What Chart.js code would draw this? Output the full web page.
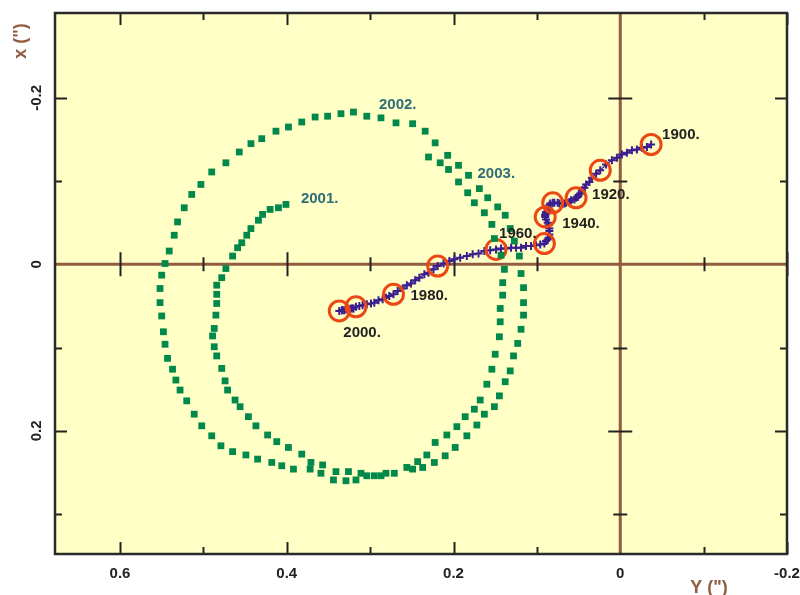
<!DOCTYPE html>
<html><head><meta charset="utf-8">
<script src="https://cdn.jsdelivr.net/npm/chart.js@4.4.1/dist/chart.umd.min.js"></script>
<style>html,body{margin:0;padding:0;background:#fff;}</style>
</head><body>
<canvas id="c" width="800" height="595"></canvas>
<script>
// ---- data (Y in arcsec, x in arcsec) ----
// mean pole path 1900 ... 2000, one point per year
const pathYears = [1900,1901,1902,1903,1904,1905,1906,1907,1908,1909,1910,1911,1912,1913,1914,1915,1916,1917,1918,1919,1920,1921,1922,1923,1924,1925,1926,1927,1928,1929,1930,1931,1932,1933,1934,1935,1936,1937,1938,1939,1940,1941,1942,1943,1944,1945,1946,1947,1948,1949,1950,1951,1952,1953,1954,1955,1956,1957,1958,1959,1960,1961,1962,1963,1964,1965,1966,1967,1968,1969,1970,1971,1972,1973,1974,1975,1976,1977,1978,1979,1980,1981,1982,1983,1984,1985,1986,1987,1988,1989,1990,1991,1992,1993,1994,1995,1996,1997,1998,1999,2000];
const pathY = [-0.037,-0.032,-0.026,-0.020,-0.014,-0.008,-0.002,0.004,0.010,0.017,
  0.024,0.029,0.034,0.037,0.041,0.043,0.046,0.048,0.050,0.051,
  0.053,0.055,0.059,0.061,0.065,0.067,0.069,0.073,0.075,0.079,
  0.081,0.084,0.085,0.086,0.087,0.087,0.089,0.089,0.090,0.090,
  0.090,0.089,0.087,0.086,0.085,0.085,0.085,0.086,0.087,0.089,
  0.091,0.096,0.101,0.107,0.113,0.119,0.125,0.131,0.137,0.143,
  0.149,0.156,0.163,0.170,0.177,0.184,0.192,0.199,0.205,0.212,
  0.219,0.224,0.230,0.235,0.241,0.246,0.251,0.256,0.261,0.267,
  0.272,0.277,0.281,0.285,0.290,0.295,0.299,0.304,0.309,0.313,
  0.317,0.320,0.321,0.323,0.325,0.327,0.329,0.331,0.333,0.334,
  0.337];
const pathX = [-0.144,-0.141,-0.140,-0.138,-0.137,-0.134,-0.132,-0.128,-0.125,-0.120,
  -0.113,-0.109,-0.104,-0.099,-0.096,-0.092,-0.089,-0.085,-0.083,-0.081,
  -0.080,-0.078,-0.077,-0.075,-0.074,-0.073,-0.073,-0.073,-0.074,-0.074,
  -0.074,-0.073,-0.071,-0.068,-0.067,-0.065,-0.063,-0.061,-0.060,-0.059,
  -0.057,-0.054,-0.050,-0.047,-0.043,-0.040,-0.036,-0.032,-0.030,-0.028,
  -0.025,-0.024,-0.023,-0.022,-0.022,-0.020,-0.020,-0.020,-0.019,-0.019,
  -0.018,-0.017,-0.016,-0.013,-0.012,-0.010,-0.008,-0.006,-0.004,-0.001,
  0.002,0.006,0.010,0.012,0.016,0.019,0.023,0.025,0.029,0.032,
  0.036,0.038,0.040,0.042,0.043,0.046,0.047,0.048,0.049,0.050,
  0.051,0.053,0.053,0.053,0.054,0.054,0.054,0.055,0.055,0.055,
  0.056];
const circleYears = [1900,1910,1920,1930,1940,1950,1960,1970,1980,1990,2000];
const pathLabelYears = [1900,1920,1940,1960,1980,2000];
const pathLabels = ["1900.","1920.","1940.","1960.","1980.","2000."];

// pole positions 2001 - 2003
const spiralY = [0.401,0.410,0.420,0.429,0.434,0.443,0.448,0.454,0.459,0.465,
  0.473,0.478,0.484,0.484,0.484,0.485,0.487,0.489,0.487,0.484,
  0.478,0.474,0.471,0.462,0.456,0.446,0.437,0.423,0.412,0.398,
  0.382,0.371,0.357,0.341,0.326,0.311,0.295,0.281,0.256,0.243,
  0.232,0.222,0.208,0.196,0.186,0.175,0.168,0.160,0.154,0.150,
  0.145,0.144,0.144,0.141,0.141,0.139,0.143,0.151,0.154,0.163,
  0.175,0.183,0.194,0.206,0.216,0.230,0.222,0.234,0.249,0.269,
  0.287,0.304,0.320,0.335,0.351,0.366,0.382,0.398,0.413,0.430,
  0.443,0.457,0.473,0.490,0.503,0.514,0.523,0.531,0.535,0.541,
  0.546,0.550,0.552,0.552,0.550,0.548,0.546,0.543,0.537,0.533,
  0.528,0.520,0.511,0.502,0.490,0.479,0.465,0.449,0.435,0.418,
  0.406,0.392,0.372,0.359,0.344,0.329,0.317,0.304,0.287,0.271,
  0.249,0.237,0.223,0.210,0.198,0.184,0.172,0.163,0.151,0.145,
  0.138,0.132,0.128,0.123,0.119,0.116,0.116,0.116,0.119,0.121,
  0.127,0.132,0.138,0.147,0.159,0.169,0.182,0.194,0.207];
const spiralX = [-0.072,-0.068,-0.066,-0.060,-0.053,-0.043,-0.035,-0.026,-0.020,-0.010,
  0.005,0.016,0.025,0.036,0.047,0.061,0.077,0.086,0.099,0.110,
  0.125,0.140,0.151,0.163,0.171,0.183,0.194,0.205,0.213,0.220,
  0.228,0.238,0.241,0.249,0.249,0.251,0.254,0.251,0.244,0.237,
  0.229,0.214,0.205,0.195,0.183,0.174,0.163,0.144,0.126,0.108,
  0.087,0.069,0.053,0.037,0.022,0.006,-0.011,-0.031,-0.048,-0.062,
  -0.074,-0.086,-0.099,-0.114,-0.122,-0.129,-0.146,-0.160,-0.169,-0.170,
  -0.176,-0.178,-0.183,-0.181,-0.178,-0.177,-0.171,-0.165,-0.160,-0.151,
  -0.145,-0.135,-0.122,-0.111,-0.096,-0.084,-0.068,-0.051,-0.035,-0.016,
  -0.001,0.013,0.029,0.046,0.062,0.081,0.096,0.113,0.126,0.139,
  0.151,0.164,0.180,0.194,0.206,0.218,0.225,0.229,0.234,0.238,
  0.242,0.246,0.246,0.251,0.259,0.260,0.259,0.254,0.254,0.251,
  0.246,0.244,0.238,0.230,0.220,0.206,0.193,0.180,0.171,0.158,
  0.141,0.128,0.110,0.095,0.078,0.061,0.046,0.028,0.011,-0.010,
  -0.028,-0.043,-0.059,-0.069,-0.080,-0.091,-0.107,-0.119,-0.131];
const spiralLabelIdx = [0,69,146];
const spiralLabels = ["2001.","2002.","2003."];

// axis ticks
const xTickValues = [-0.2,-0.1,0,0.1,0.2,0.3,0.4,0.5,0.6];
const yTickValues = [-0.2,-0.1,0,0.1,0.2,0.3];
const xTitle = 'Y (")';
const yTitle = 'x (")';

// ---- styling ----
const BROWN = '#915C40';
const PURPLE = '#3B1F8F';
const ORANGE = '#EC4814';
const GREEN = '#00894A';
const TEAL = '#2F6E78';
const INK = '#222222';
const SANS = '"Liberation Sans", Arial, sans-serif';

const isMajor = v => Math.round(v * 10) % 2 === 0;
const fmt = v => String(Math.round(v * 10) / 10);

const pathData = pathY.map((v, i) => ({x: v, y: pathX[i]}));
const circleData = circleYears.map(yr => { const i = pathYears.indexOf(yr); return {x: pathY[i], y: pathX[i]}; });
const spiralData = spiralY.map((v, i) => ({x: v, y: spiralX[i]}));

const deco = {
  id: 'deco',
  beforeDraw(chart) {
    const {ctx, chartArea: a} = chart;
    ctx.save();
    ctx.fillStyle = '#ffffff';
    ctx.fillRect(0, 0, chart.width, chart.height);
    ctx.fillStyle = '#FFFFC6';
    ctx.fillRect(a.left, a.top, a.right - a.left, a.bottom - a.top);
    ctx.restore();
  },
  beforeDatasetsDraw(chart) {
    const {ctx, chartArea: a, scales: {x, y}} = chart;
    const x0 = x.getPixelForValue(0), y0 = y.getPixelForValue(0);
    ctx.save();
    ctx.strokeStyle = BROWN; ctx.lineWidth = 3;
    ctx.beginPath();
    ctx.moveTo(a.left, y0); ctx.lineTo(a.right, y0);
    ctx.moveTo(x0, a.top); ctx.lineTo(x0, a.bottom);
    ctx.stroke();
    ctx.strokeStyle = INK; ctx.lineWidth = 2;
    ctx.beginPath();
    xTickValues.forEach(v => {
      if (Math.abs(v) < 1e-9) return;
      const p = Math.round(x.getPixelForValue(v)) + 0.5, L = isMajor(v) ? 12 : 7;
      ctx.moveTo(p, y0 - L); ctx.lineTo(p, y0 + L);
    });
    yTickValues.forEach(v => {
      if (Math.abs(v) < 1e-9) return;
      const p = Math.round(y.getPixelForValue(v)) + 0.5, L = isMajor(v) ? 12 : 7;
      ctx.moveTo(x0 - L, p); ctx.lineTo(x0 + L, p);
    });
    ctx.stroke();
    ctx.restore();
  },
  afterDatasetsDraw(chart) {
    const {ctx, chartArea: a, scales: {x, y}} = chart;
    ctx.save();
    // frame ticks
    ctx.strokeStyle = INK; ctx.lineWidth = 2;
    ctx.beginPath();
    xTickValues.forEach(v => {
      if (Math.abs(v) < 1e-9) return;
      const p = Math.round(x.getPixelForValue(v)) + 0.5, L = isMajor(v) ? 12 : 7;
      ctx.moveTo(p, a.bottom); ctx.lineTo(p, a.bottom - L);
      ctx.moveTo(p, a.top); ctx.lineTo(p, a.top + L);
    });
    yTickValues.forEach(v => {
      if (Math.abs(v) < 1e-9) return;
      const p = Math.round(y.getPixelForValue(v)) + 0.5, L = isMajor(v) ? 12 : 7;
      ctx.moveTo(a.left, p); ctx.lineTo(a.left + L, p);
      ctx.moveTo(a.right, p); ctx.lineTo(a.right - L, p);
    });
    ctx.stroke();
    // frame
    ctx.strokeStyle = '#2a2a2a'; ctx.lineWidth = 2.5;
    ctx.strokeRect(a.left, a.top, a.right - a.left, a.bottom - a.top);

    // y tick labels (rotated)
    ctx.fillStyle = INK;
    ctx.font = 'bold 15px ' + SANS;
    ctx.textAlign = 'center'; ctx.textBaseline = 'middle';
    yTickValues.forEach(v => {
      if (!isMajor(v)) return;
      ctx.save();
      ctx.translate(37, y.getPixelForValue(v));
      ctx.rotate(-Math.PI / 2);
      ctx.fillText(fmt(v), 0, 0);
      ctx.restore();
    });

    // year labels on the mean-pole path
    const offs = {1900: [11, -11], 1920: [16, -3.5], 1940: [17, 5.5], 1960: [3, -17], 1980: [17, 1], 2000: [4, 21]};
    ctx.font = 'bold 15px ' + SANS;
    ctx.textAlign = 'left'; ctx.textBaseline = 'middle';
    ctx.fillStyle = INK;
    pathLabelYears.forEach((yr, k) => {
      const i = pathYears.indexOf(yr);
      const px = x.getPixelForValue(pathY[i]), py = y.getPixelForValue(pathX[i]);
      ctx.fillText(pathLabels[k], px + offs[yr][0], py + offs[yr][1] + 1);
    });
    const soffs = [[15, -6.5], [-17, -19], [9, -2]];
    ctx.fillStyle = TEAL;
    spiralLabelIdx.forEach((i, k) => {
      const px = x.getPixelForValue(spiralY[i]), py = y.getPixelForValue(spiralX[i]);
      ctx.fillText(spiralLabels[k], px + soffs[k][0], py + soffs[k][1] + 1);
    });

    // axis titles
    ctx.fillStyle = BROWN;
    ctx.font = 'bold 18px ' + SANS;
    ctx.textAlign = 'center';
    ctx.fillText(xTitle, 709, 588);
    ctx.save();
    ctx.translate(21, 41);
    ctx.rotate(-Math.PI / 2);
    ctx.fillText(yTitle, 0, 0);
    ctx.restore();
    ctx.restore();
  }
};

new Chart(document.getElementById('c'), {
  type: 'scatter',
  data: {
    datasets: [
      {label: 'mean pole 1900-2000', data: pathData, showLine: true, borderColor: PURPLE, borderWidth: 1.2,
       pointStyle: 'cross', pointRadius: 4, pointBorderWidth: 2, pointBorderColor: PURPLE, pointBackgroundColor: PURPLE, order: 3},
      {label: 'decades', data: circleData, showLine: false, pointStyle: 'circle', pointRadius: 10,
       pointBorderWidth: 3, pointBorderColor: ORANGE, pointBackgroundColor: 'rgba(0,0,0,0)', order: 2},
      {label: '2001-2003', data: spiralData, showLine: false, pointStyle: 'rect', pointRadius: 4.8,
       pointBorderWidth: 0, pointBackgroundColor: GREEN, pointBorderColor: GREEN, order: 1}
    ]
  },
  options: {
    responsive: false, animation: false, devicePixelRatio: 1,
    layout: {padding: {left: 0, top: 11, right: 10, bottom: 0}},
    plugins: {legend: {display: false}, tooltip: {enabled: false}},
    events: [],
    scales: {
      x: {type: 'linear', position: 'bottom', reverse: true, min: -0.2, max: 0.678,
          grid: {display: false, drawTicks: false}, border: {display: false},
          afterBuildTicks: s => { s.ticks = xTickValues.map(v => ({value: v})); },
          ticks: {autoSkip: false, maxRotation: 0, minRotation: 0, padding: 11,
                  color: INK, font: {family: SANS, size: 15, weight: 'bold'},
                  callback: (v) => isMajor(v) ? fmt(v) : ''},
          afterFit: s => { s.height = 41; s.paddingLeft = 0; s.paddingRight = 0; }},
      y: {type: 'linear', position: 'left', reverse: true, min: -0.302, max: 0.348,
          grid: {display: false, drawTicks: false}, border: {display: false},
          ticks: {display: false, stepSize: 0.1},
          afterFit: s => { s.width = 55; s.paddingTop = 0; s.paddingBottom = 0; }}
    }
  },
  plugins: [deco]
});
</script>
</body></html>
